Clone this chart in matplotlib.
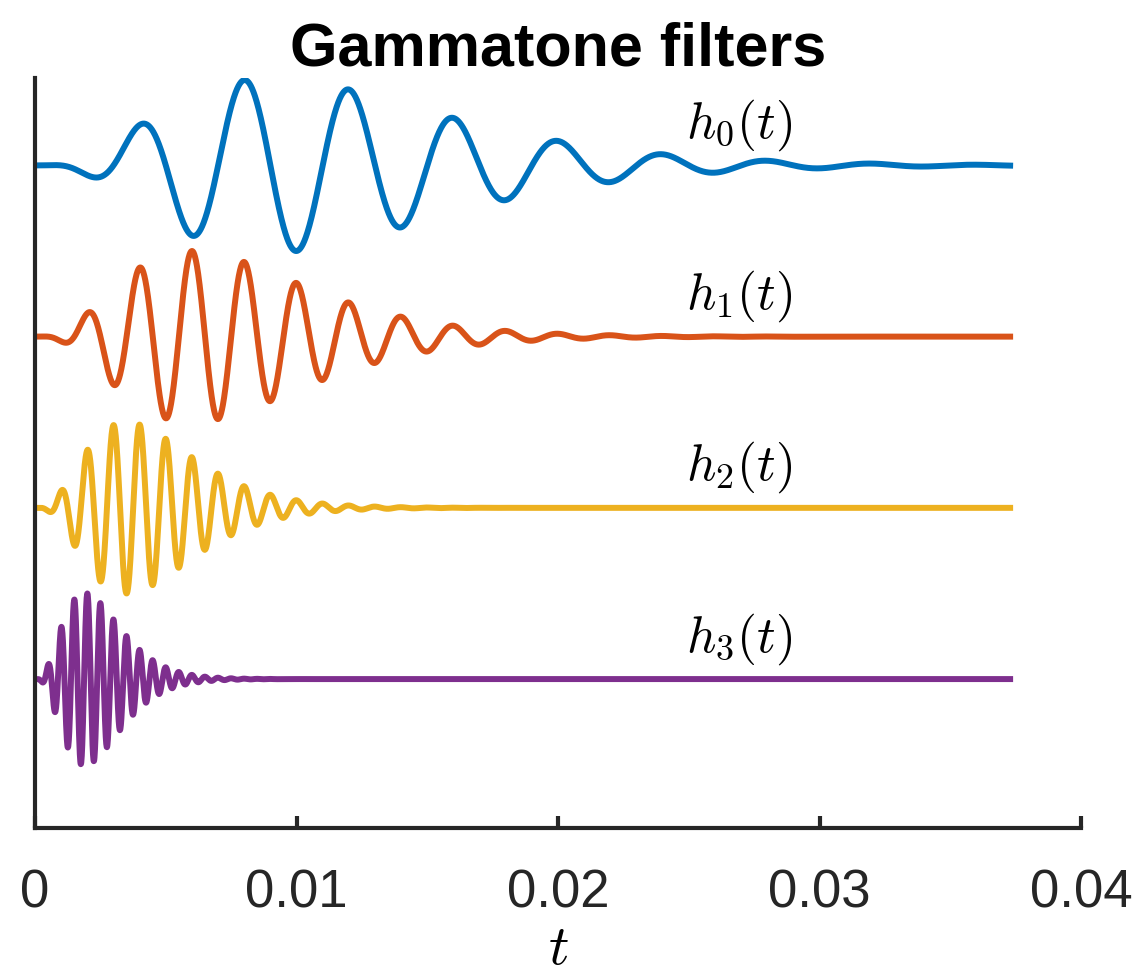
import numpy as np
import matplotlib.pyplot as plt

plt.rcParams['mathtext.fontset'] = 'cm'

# gammatone filter bank (4th order)
center_freqs = [250, 500, 1000, 2000]          # Hz, from the period of the oscillation
peak_times = [0.0090, 0.0060, 0.0035, 0.0019]   # s, where the envelope is largest
offsets = [6, 4, 2, 0]                          # vertical stacking of the traces
labels = [r'$h_0(t)$', r'$h_1(t)$', r'$h_2(t)$', r'$h_3(t)$']
colors = ['#0072BD', '#D95319', '#EDB120', '#7E2F8E']
order = 4
t_end = 0.0374

xticks = [0, 0.01, 0.02, 0.03, 0.04]
xtick_labels = ['0', '0.01', '0.02', '0.03', '0.04']

t = np.linspace(0, t_end, 4000)

fig = plt.figure(figsize=(11.38, 9.76), dpi=100)
ax = fig.add_axes([0.0308, 0.1516, 0.9192, 0.7684])

for fc, tp, off, lab, col in zip(center_freqs, peak_times, offsets, labels, colors):
    b = (order - 1) / (2 * np.pi * tp)
    h = t ** (order - 1) * np.exp(-2 * np.pi * b * t) * np.cos(2 * np.pi * fc * t)
    h = h / np.abs(h).max()
    ax.plot(t, h + off, color=col, lw=4.3, solid_capstyle='butt')
    ax.text(0.0249, off + 0.47, lab, fontsize=37, va='center', ha='left')

ax.set_xlim(0, 0.04)
ax.set_ylim(-1.74, 7.02)

for s in ['top', 'right']:
    ax.spines[s].set_visible(False)
for s in ['left', 'bottom']:
    ax.spines[s].set_color('#262626')
    ax.spines[s].set_linewidth(3.0)

ax.set_yticks([])
ax.set_xticks(xticks)
ax.set_xticklabels(xtick_labels, fontfamily=['Liberation Sans', 'DejaVu Sans'],
                   fontsize=38, color='#262626')
ax.tick_params(axis='x', direction='in', length=9, width=3.0, color='#262626', pad=29)

ax.set_xlabel(r'$t$', fontsize=41, labelpad=2)
ax.set_title('Gammatone filters', fontfamily=['Liberation Sans', 'DejaVu Sans'],
             fontweight='bold', fontsize=44, pad=8)

fig.savefig('out.png', dpi=100)
